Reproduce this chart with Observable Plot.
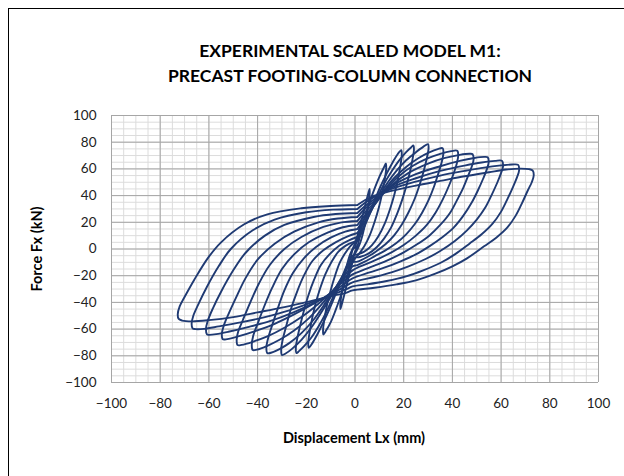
<!DOCTYPE html>
<html>
<head>
<meta charset="utf-8">
<script src="https://cdn.jsdelivr.net/npm/d3@7"></script>
<script src="https://cdn.jsdelivr.net/npm/@observablehq/plot@0.6"></script>
<style>
  html, body { margin: 0; padding: 0; background: #fff; width: 624px; height: 476px; overflow: hidden; }
  #frame { position: absolute; left: 8px; top: 8px; width: 700px; height: 600px; border-left: 1.5px solid #000; border-top: 1.5px solid #000; }
  #title { position: absolute; left: 0; width: 700px; top: 38px; text-align: center; font-family: Lato, sans-serif; font-weight: bold; font-size: 17.5px; line-height: 25px; color: #000; }
  #xlabel { position: absolute; left: 0; width: 708px; top: 429px; text-align: center; font-family: Lato, sans-serif; font-weight: bold; font-size: 14.5px; color: #000; }
  #ylabel { position: absolute; left: 36px; top: 249px; transform: translate(-50%, -50%) rotate(-90deg); font-family: Lato, sans-serif; font-weight: bold; font-size: 14.5px; color: #000; white-space: nowrap; }
  #chart { position: absolute; left: 0; top: 0; }
</style>
</head>
<body>
<div id="chart"></div>
<div id="frame"></div>
<div id="title">EXPERIMENTAL SCALED MODEL M1:<br>PRECAST FOOTING-COLUMN CONNECTION</div>
<div id="xlabel">Displacement Lx (mm)</div>
<div id="ylabel">Force Fx (kN)</div>
<script>
// Tick labels / axis values
const xTicks = [-100, -80, -60, -40, -20, 0, 20, 40, 60, 80, 100];
const yTicks = [-100, -80, -60, -40, -20, 0, 20, 40, 60, 80, 100];
const minorTicks = d3.range(-100, 101, 5);

// Hysteresis cycles: [displacement mm, force kN]
const cycle1 = [[0,1],[1,8],[2,15],[2.5,19],[2.4,14],[1.7,7],[0.8,1],[0,-2],[-1,-8],[-2,-15],[-2.5,-18],[-2.4,-13],[-1.7,-6],[-0.8,0],[0,1]];
const cycle2 = [[0,4],[1.5,13],[3,24],[4.5,35],[5.5,42],[6,45],[6,41],[5.4,32],[4.5,22],[3.3,12],[2,4],[0.5,-2],[-0.5,-5],[-1.5,-13],[-3,-24],[-4.5,-35],[-5.5,-42],[-6,-45],[-6,-41],[-5.4,-32],[-4.5,-22],[-3.3,-12],[-2,-4],[-0.5,2],[0,4]];
const cycle3 = [[0,5],[2,13],[4,24],[6,35],[8,45],[10,54],[11.7,60.5],[12.7,64],[12.8,60],[12.2,52],[11.2,42],[9.8,31],[8,20],[6,10],[3.8,2],[1.5,-4],[0,-7],[-2,-14],[-4,-25],[-6,-36],[-8,-46],[-10,-55],[-12,-61.5],[-13,-64],[-13.1,-60],[-12.5,-52],[-11.5,-42],[-10,-31],[-8.2,-20],[-6.2,-10],[-4,-3],[-2,2],[0,5]];
const cycle4 = [[1,6],[3,13],[5.5,24],[8,36],[10.5,47],[13,56.5],[15.5,65],[17.5,71],[19,74],[19.2,70],[18.6,62],[17.6,52],[16.2,41],[14.4,30],[12.2,19],[9.6,9.5],[6.8,2.5],[3.8,-2],[1,-4],[-1,-5],[-3,-11],[-5.5,-22],[-8,-34],[-10.5,-45],[-13,-55],[-15.5,-64],[-17.5,-70.5],[-19,-74],[-19.2,-70],[-18.6,-62],[-17.6,-52],[-16.2,-41],[-14.4,-30],[-12.2,-19],[-9.6,-9.5],[-6.8,-2],[-3.8,2.5],[-1,5],[1,6]];
const cycle5 = [[1,9],[3,15],[6,26],[9,38],[12,49],[15,58],[18,66],[21,72.5],[23,76],[24,77.5],[24.2,74],[23.6,67],[22.6,58],[21.2,48],[19.4,37],[17.2,26],[14.8,16],[12,8],[9,1.5],[5.5,-3.5],[2,-6],[-1,-7],[-3,-13],[-6,-24],[-9,-36],[-12,-48],[-15,-58],[-18,-66.5],[-21,-73],[-23,-76.5],[-24,-78],[-24.3,-74],[-23.7,-67],[-22.6,-58],[-21.1,-47],[-19.2,-35],[-16.8,-23],[-14,-12],[-10.5,-4],[-6.5,2.5],[-2.5,6.5],[1,9]];
const cycle6 = [[1,12],[3.5,19],[7,30],[10,40],[13.5,50],[17,58.5],[21,66.5],[25,72.5],[28,76.5],[30,78.5],[30.2,75],[29.5,68],[28.3,59],[26.7,49],[24.6,38],[22,27.5],[19.3,18.5],[16,10],[12.5,3.5],[8.5,-2],[5,-6],[1,-9.5],[-1,-10],[-4,-17],[-7,-26],[-10,-36],[-14,-48],[-18,-59],[-22,-68],[-26,-75],[-28.5,-78.3],[-30,-79.4],[-30.3,-75],[-29.7,-68],[-28.3,-58],[-26.5,-46],[-24,-33],[-21,-20],[-17.5,-9],[-13,-1],[-8,5],[-3,9.5],[1,12]];
const cycle7 = [[1,15],[4,23],[8,33.5],[12,44],[16,53],[21,61.5],[26,68],[30.5,72.3],[34,74.8],[36,75.5],[36.3,72],[35.6,65],[34.3,57],[32.5,47],[30.3,37],[27.5,27],[24.5,18.5],[21,11],[17,4.5],[12.5,-1],[8,-5.5],[4,-9.5],[1,-12],[-1,-13],[-4,-19],[-8,-29],[-12,-40],[-17,-53],[-22,-63],[-27,-70.5],[-31,-75],[-34.5,-77.7],[-36,-78],[-36.4,-74],[-35.7,-67],[-34,-57],[-31.8,-45],[-29,-31],[-25.5,-18],[-21,-7],[-16,1.5],[-10,8.5],[-4,13],[1,15]];
const cycle8 = [[1,18],[4,25],[8,33],[13,45],[18,54.5],[24,62.5],[30,68],[35,71.3],[39.5,73.3],[42,73.6],[42.4,70],[41.8,64],[40.4,56],[38.5,47],[36,37],[33,27],[29.5,18],[25,10],[20,3],[15,-2.5],[10,-7],[5,-11],[1,-14],[-1,-16],[-4,-21],[-8,-29],[-13,-40],[-19,-52],[-25,-61],[-31,-68],[-36,-72.5],[-40.3,-75.4],[-42,-75.7],[-42.4,-72],[-41.8,-65],[-40,-56],[-37.5,-44],[-34,-29],[-30,-15],[-25,-4],[-19,5],[-11,12.5],[-5,16.3],[1,18]];
const cycle9 = [[1,21],[4,27.5],[8,34.5],[15,47.5],[22,57],[30,64],[37,68.2],[43,70.5],[47,71.3],[48.3,71],[48.7,67],[48,62],[46.5,55],[44.5,46],[42,37],[39,27],[35,18],[30.5,10],[25.5,3.5],[20,-2.5],[14,-8],[8,-12.5],[3,-16],[-1,-19],[-4,-23],[-9,-31],[-15,-41],[-22,-51],[-29,-59],[-36,-65.5],[-42,-69.5],[-46.5,-71.8],[-48.2,-72],[-48.6,-68],[-48,-62],[-46,-53],[-43,-40],[-39.5,-26],[-35,-12],[-29,0],[-22,9],[-13,16.5],[-6,19.8],[1,21]];
const cycle10 = [[1,24],[4,30],[8,36],[15,47],[25,56],[35,62],[43,66],[49,68.2],[53,69],[54.5,68.7],[54.9,65],[54.2,60],[52.7,53],[50.5,44],[48,35],[44.5,25],[40.5,16],[36,9],[30.5,2],[25,-4],[19,-9],[12,-14],[6,-17.5],[-1,-22],[-4,-25.5],[-9,-32],[-17,-41],[-25,-49],[-33,-56],[-41,-61.5],[-48,-65.5],[-52.5,-67.5],[-54.3,-67.6],[-54.7,-64],[-54,-58],[-52,-49],[-49,-37],[-45,-22],[-40,-8],[-33,4],[-25,13],[-15,20],[-7,22.8],[1,24]];
const cycle11 = [[1,27],[4,32],[8,37.5],[15,46],[25,53],[35,58.5],[45,62.5],[52,64.8],[57.5,66],[60.4,66],[60.8,62],[60,57],[58.5,50],[56,40],[53.5,31],[50,22],[46,14],[41,6],[35,-1.5],[29,-7.5],[22,-13],[15,-17.5],[8,-21],[-1,-25],[-4,-28],[-9,-33],[-17,-40.5],[-26,-48],[-35,-54],[-44,-58.5],[-52,-62],[-57,-63.8],[-60,-64.3],[-60.8,-64],[-61.2,-60],[-60.5,-54],[-58.5,-45],[-55,-32],[-50,-16],[-45,-3],[-37,10],[-29,18],[-17,24],[-8,26.2],[1,27]];
const cycle12 = [[1,30],[4,34.5],[8,39],[15,45],[25,50.5],[35,55],[45,58.5],[53,61],[60,62.6],[64.5,63.3],[67,63],[67.4,59],[66.6,54],[65,47],[62.5,37],[60,28],[56.5,19],[52,11],[47,4],[41,-4],[35,-10.5],[28,-16],[21,-20.5],[13,-24],[5,-26.5],[-1,-28],[-4,-30.5],[-9,-34],[-17,-39.5],[-27,-46],[-37,-51],[-47,-55],[-56,-58],[-62,-59.8],[-65.5,-60],[-66.7,-59.4],[-67.1,-56],[-66.4,-50],[-64.5,-42],[-61,-29],[-56,-13],[-51,0],[-42,14],[-33,22],[-20,27.5],[-9,29.5],[1,30]];
const cycle13 = [[1,33],[4,36.5],[8,40],[15,43.5],[25,47.5],[35,51],[45,54.5],[55,57.5],[62,59.5],[68,60.2],[71.5,59.8],[73,58.7],[73.4,55],[72.6,50],[71,44],[68.5,34],[66,25],[62.5,16],[58,8.5],[53,2],[46,-7],[40,-13],[33,-18.5],[25,-23.5],[17,-26.5],[8,-29],[-1,-31],[-4,-33],[-9,-35],[-17,-38.5],[-29,-43.5],[-40,-47.5],[-50,-51],[-60,-53.3],[-67,-54.2],[-71,-53.6],[-72.4,-52.4],[-72.8,-49],[-72,-43],[-70,-36],[-66,-23],[-60.5,-7],[-55,5],[-45.5,18.5],[-36,26],[-22,30.5],[-10,32.2],[1,33]];

const cycles = [cycle1, cycle2, cycle3, cycle4, cycle5, cycle6, cycle7, cycle8, cycle9, cycle10, cycle11, cycle12, cycle13];
const data = cycles.flatMap((c, i) => c.map(([x, y]) => ({x, y, cycle: i})));

const chart = Plot.plot({
  width: 624,
  height: 476,
  marginLeft: 111,
  marginRight: 26,
  marginTop: 115,
  marginBottom: 94,
  style: {fontFamily: "Lato, sans-serif", fontSize: "13px", color: "#222", background: "transparent"},
  x: {domain: [-100, 100], label: null},
  y: {domain: [-100, 100], label: null},
  marks: [
    Plot.gridX(minorTicks, {stroke: "#dcdcdc", strokeOpacity: 1, strokeWidth: 1}),
    Plot.gridY(minorTicks, {stroke: "#dcdcdc", strokeOpacity: 1, strokeWidth: 1}),
    Plot.gridX(xTicks, {stroke: "#a6a6a6", strokeOpacity: 1, strokeWidth: 1}),
    Plot.gridY(yTicks, {stroke: "#a6a6a6", strokeOpacity: 1, strokeWidth: 1}),
    Plot.axisX(xTicks, {tickSize: 0, tickPadding: 16, label: null, fontSize: 13.5}),
    Plot.axisY(yTicks, {tickSize: 0, tickPadding: 15, label: null, fontSize: 13.5}),
    Plot.line(data, {x: "x", y: "y", z: "cycle", curve: "catmull-rom", stroke: "#1f3a73", strokeWidth: 1.9})
  ]
});
document.getElementById("chart").appendChild(chart);
</script>
</body>
</html>
